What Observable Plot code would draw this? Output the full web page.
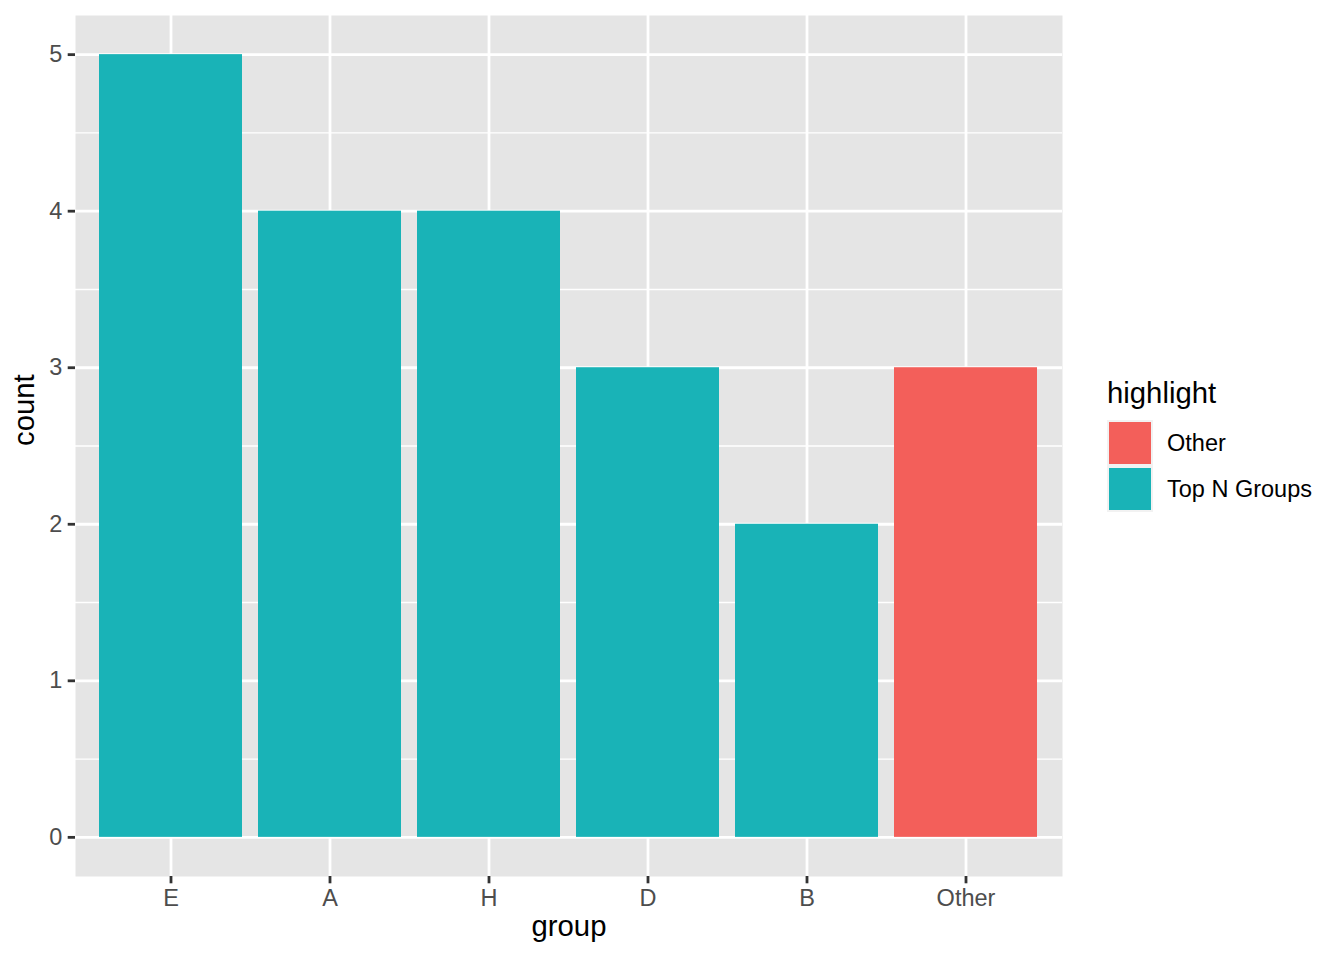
<!DOCTYPE html>
<html>
<head>
<meta charset="utf-8">
<script src="https://cdn.jsdelivr.net/npm/d3@7"></script>
<script src="https://cdn.jsdelivr.net/npm/@observablehq/plot@0.6"></script>
<style>
  body { margin: 0; background: #fff; }
  #wrap { position: relative; width: 1344px; height: 960px; }
</style>
</head>
<body>
<div id="wrap"></div>
<script>
const groups = ["E", "A", "H", "D", "B", "Other"];
const counts = [5, 4, 4, 3, 2, 3];
const highlight = ["Top N Groups", "Top N Groups", "Top N Groups", "Top N Groups", "Top N Groups", "Other"];
const legendLabels = ["Other", "Top N Groups"];
const legendColors = ["#F35F5A", "#19B3B7"];
const yTicks = [0, 1, 2, 3, 4, 5];
const yMinor = [0.5, 1.5, 2.5, 3.5, 4.5];

const data = groups.map((g, i) => ({group: g, count: counts[i], highlight: highlight[i]}));
const FONT = "Liberation Sans, Arial, Helvetica, sans-serif";

const chart = Plot.plot({
  width: 1344,
  height: 960,
  marginLeft: 75,
  marginRight: 282,
  marginTop: 15,
  marginBottom: 84,
  style: {fontFamily: FONT, fontSize: "23.5px", background: "transparent"},
  x: {domain: groups, paddingInner: 0.1, paddingOuter: 0.15, label: null},
  y: {domain: [-0.25, 5.25], label: null},
  color: {domain: legendLabels, range: legendColors},
  marks: [
    Plot.frame({fill: "#E5E5E5", stroke: null}),
    Plot.gridY(yMinor, {stroke: "#fff", strokeOpacity: 1, strokeWidth: 1.4}),
    Plot.gridY(yTicks, {stroke: "#fff", strokeOpacity: 1, strokeWidth: 2.8}),
    Plot.gridX({stroke: "#fff", strokeOpacity: 1, strokeWidth: 2.8}),
    Plot.barY(data, {x: "group", y: "count", fill: "highlight"}),
    Plot.axisY(yTicks, {tickSize: 7.3, tickPadding: 5.9, fontSize: 23.5, tickFormat: d3.format("d"), fill: "#4D4D4D", stroke: "#333", strokeWidth: 2.8, label: null}),
    Plot.axisX({tickSize: 7.3, tickPadding: 5.9, fontSize: 23.5, fill: "#4D4D4D", stroke: "#333", strokeWidth: 2.8, label: null}),
    Plot.text(["count"], {frameAnchor: "left", dx: -51, rotate: -90, fontSize: 29.3, fill: "#000", text: d => d}),
    Plot.text(["group"], {frameAnchor: "bottom", dy: 59, fontSize: 29.3, fill: "#000", text: d => d})
  ]
});

const wrap = document.getElementById("wrap");
wrap.appendChild(chart);

// legend (ggplot-style), drawn into the same SVG
const svg = d3.select(chart.tagName.toLowerCase() === "svg" ? chart : chart.querySelector("svg"));
const lg = svg.append("g").attr("font-family", FONT).attr("text-anchor", "start");
lg.append("text").attr("x", 1107).attr("y", 403).attr("font-size", 29.3).attr("fill", "#000").attr("text-anchor", "start").text("highlight");
legendLabels.forEach((l, i) => {
  const top = 420 + i * 46;
  lg.append("rect").attr("x", 1107).attr("y", top).attr("width", 46).attr("height", 46).attr("fill", "#F2F2F2");
  lg.append("rect").attr("x", 1109).attr("y", top + 2).attr("width", 42).attr("height", 42).attr("fill", legendColors[i]);
  lg.append("text").attr("x", 1167).attr("y", top + 23).attr("dy", "0.36em").attr("font-size", 23.5).attr("fill", "#000").attr("text-anchor", "start").text(l);
});
</script>
</body>
</html>
